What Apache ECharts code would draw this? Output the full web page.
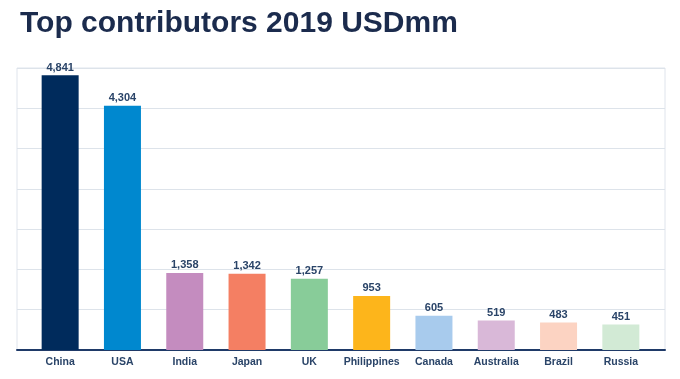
<!DOCTYPE html>
<html><head><meta charset="utf-8">
<script src="https://cdn.jsdelivr.net/npm/echarts@6/dist/echarts.min.js"></script>
<style>html,body{margin:0;padding:0;background:#fff}#c{width:680px;height:379px}</style>
</head><body><div id="c"></div>
<script>
const categories = ['China','USA','India','Japan','UK','Philippines','Canada','Australia','Brazil','Russia'];
const values = [4841, 4304, 1358, 1342, 1257, 953, 605, 519, 483, 451];
const colors = ['#002b5c','#0088cf','#c48cbf','#f47f63','#88cc99','#fdb51b','#a8cbed','#d9b8d8','#fcd3c2','#d2ead5'];
const yMax = 4970, yInterval = 710;

const chart = echarts.init(document.getElementById('c'), null, {renderer:'canvas'});
const font = 'Liberation Sans, Arial, sans-serif';
chart.setOption({
  animation: false,
  backgroundColor: '#fff',
  title: {
    text: 'Top contributors 2019 USDmm', left: 15, top: 4,
    textStyle: {fontFamily: font, fontWeight: 'bold', fontSize: 30, color: '#1b2b4d'}
  },
  grid: [
    {left: 17, right: 15, top: 68, bottom: 29, show: true, borderColor: '#dfe4ec', borderWidth: 1, backgroundColor: 'transparent'},
    {left: 29, right: 28, top: 68, bottom: 29}
  ],
  xAxis: [
    {gridIndex: 0, type: 'category', data: [''], axisLine: {show: true, lineStyle: {color: '#1f3a68', width: 2}}, axisTick: {show: false}, axisLabel: {show: false}},
    {gridIndex: 1, type: 'category', data: categories, axisLine: {show: false}, axisTick: {show: false},
     axisLabel: {interval: 0, margin: 7, fontFamily: font, fontSize: 10.5, fontWeight: 'bold', color: '#2a4468'}}
  ],
  yAxis: [
    {gridIndex: 0, type: 'value', min: 0, max: yMax, interval: yInterval, axisLabel: {show: false}, axisLine: {show: false}, axisTick: {show: false},
     splitLine: {lineStyle: {color: '#dde3ea', width: 1}}},
    {gridIndex: 1, type: 'value', min: 0, max: yMax, interval: yInterval, show: false, splitLine: {show: false}}
  ],
  series: [{
    type: 'bar', xAxisIndex: 1, yAxisIndex: 1, barWidth: 37,
    data: values.map((v, i) => ({value: v, itemStyle: {color: colors[i]}})),
    label: {show: true, position: 'top', distance: 2, fontFamily: font, fontSize: 11, fontWeight: 'bold', color: '#2a4468',
      formatter: p => p.value.toLocaleString('en-US')}
  }]
});
</script></body></html>
